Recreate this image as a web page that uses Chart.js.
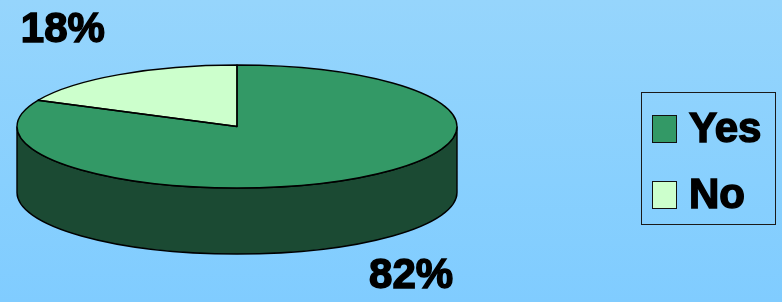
<!DOCTYPE html>
<html>
<head>
<meta charset="utf-8">
<script src="https://cdn.jsdelivr.net/npm/chart.js@4/dist/chart.umd.min.js"></script>
<style>
  html, body { margin: 0; padding: 0; }
  body {
    width: 782px; height: 302px; overflow: hidden; position: relative;
    background: linear-gradient(to bottom, #96d5fc 0%, #88d0fe 60%, #80ccff 100%);
    font-family: "Liberation Sans", Arial, sans-serif;
  }
  #chart { position: absolute; left: 0; top: 0; }
  #legend {
    position: absolute; left: 641px; top: 92px; width: 133px; height: 131px;
    border: 1px solid #1a1a1a;
  }
  .item { position: absolute; left: 10px; height: 30px; }
  .item .box {
    position: absolute; left: 0; top: 0; width: 23px; height: 26px;
    border: 1px solid #111;
  }
  .item .txt {
    position: absolute; left: 37px; top: -8px; font-weight: bold; font-size: 42px;
    line-height: 42px; color: #000; -webkit-text-stroke: 1.5px #000; white-space: nowrap;
  }
</style>
</head>
<body>
<canvas id="chart" width="782" height="302"></canvas>
<div id="legend"></div>
<script>
// dados do gráfico
const categorias = ['Yes', 'No'];
const valores = [82, 18];
const cores = ['#339966', '#ccffcc'];
const coresLaterais = ['#1b4a33', '#667f66'];

// geometria da pizza 3D (elipse no topo + profundidade)
const PIE = { cx: 237, cy: 126.5, rx: 220, ry: 61.5, depth: 66 };

// legenda em HTML
function montarLegenda() {
    const el = document.getElementById('legend');
    const tops = [22, 88];
    categorias.forEach((nome, i) => {
        const item = document.createElement('div');
        item.className = 'item';
        item.style.top = tops[i] + 'px';
        item.innerHTML = `<div class="box" style="background:${cores[i]}"></div><div class="txt">${nome}</div>`;
        el.appendChild(item);
    });
}

// plugin que transforma a pizza circular em elipse e desenha a lateral
const pizza3d = {
    id: 'pizza3d',
    beforeDatasetsDraw(chart) {
        const ctx = chart.ctx;
        const arcs = chart.getDatasetMeta(0).data;
        if (!arcs.length) return;
        const a0 = arcs[0];
        const r = a0.outerRadius;

        // lateral (somente a metade da frente é visível)
        arcs.forEach((arc, i) => {
            for (let k = -1; k <= 1; k++) {
                const s = Math.max(arc.startAngle + k * 2 * Math.PI, 0);
                const e = Math.min(arc.endAngle + k * 2 * Math.PI, Math.PI);
                if (e <= s) continue;
                ctx.save();
                ctx.beginPath();
                ctx.ellipse(PIE.cx, PIE.cy, PIE.rx, PIE.ry, 0, s, e, false);
                ctx.ellipse(PIE.cx, PIE.cy + PIE.depth, PIE.rx, PIE.ry, 0, e, s, true);
                ctx.closePath();
                ctx.fillStyle = coresLaterais[i];
                ctx.fill();
                ctx.lineWidth = 1.4;
                ctx.strokeStyle = '#000';
                ctx.stroke();
                ctx.restore();
            }
        });

        ctx.save();
        ctx.translate(PIE.cx, PIE.cy);
        ctx.scale(PIE.rx / r, PIE.ry / r);
        ctx.translate(-a0.x, -a0.y);
    },
    afterDatasetsDraw(chart) {
        const ctx = chart.ctx;
        ctx.restore();
        const arcs = chart.getDatasetMeta(0).data;

        // contornos das fatias no topo
        arcs.forEach(arc => {
            ctx.save();
            ctx.beginPath();
            ctx.moveTo(PIE.cx, PIE.cy);
            ctx.ellipse(PIE.cx, PIE.cy, PIE.rx, PIE.ry, 0, arc.startAngle, arc.endAngle, false);
            ctx.closePath();
            ctx.lineWidth = 1.4;
            ctx.strokeStyle = '#000';
            ctx.lineJoin = 'round';
            ctx.stroke();
            ctx.restore();
        });

        // rótulos de porcentagem
        const total = valores.reduce((a, b) => a + b, 0);
        ctx.save();
        ctx.font = 'bold 42px "Liberation Sans", Arial, sans-serif';
        ctx.fillStyle = '#000';
        ctx.strokeStyle = '#000';
        ctx.lineWidth = 1.5;
        ctx.textAlign = 'center';
        ctx.textBaseline = 'middle';
        arcs.forEach((arc, i) => {
            const m = (arc.startAngle + arc.endAngle) / 2;
            const c = Math.cos(m), s = Math.sin(m);
            let x = PIE.cx + PIE.rx * c + 105 * c;
            let y = PIE.cy + PIE.ry * s + 52 * s;
            if (s > 0) y += PIE.depth * 0.82;
            const txt = Math.round(valores[i] / total * 100) + '%';
            ctx.fillText(txt, x, y);
            ctx.strokeText(txt, x, y);
        });
        ctx.restore();
    }
};

new Chart(document.getElementById('chart'), {
    type: 'pie',
    data: {
        labels: categorias,
        datasets: [{
            data: valores,
            backgroundColor: cores,
            borderWidth: 0
        }]
    },
    options: {
        responsive: false,
        animation: false,
        events: [],
        plugins: {
            legend: { display: false },
            tooltip: { enabled: false }
        }
    },
    plugins: [pizza3d]
});

montarLegenda();
</script>
</body>
</html>
